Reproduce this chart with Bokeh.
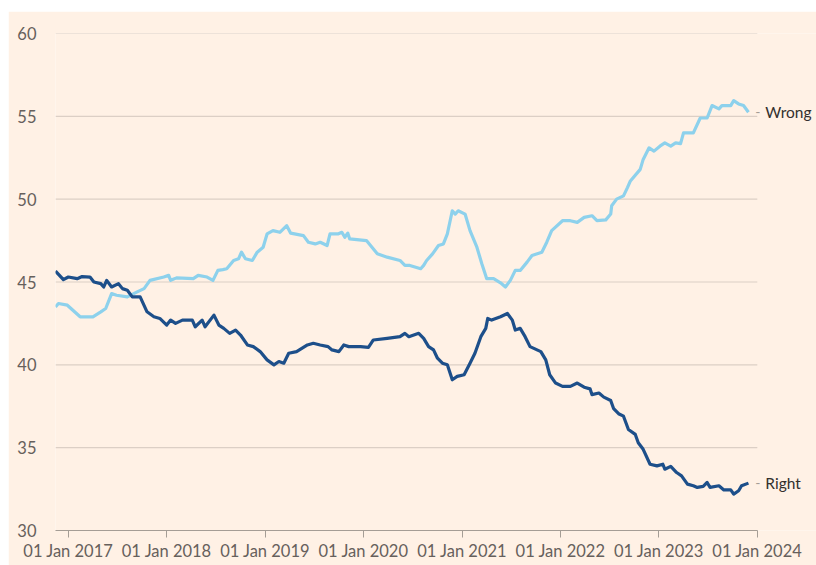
import pandas as pd
from bokeh.plotting import figure
from bokeh.models import (ColumnDataSource, Range1d, FixedTicker, DatetimeTickFormatter)
from bokeh.core.properties import value
from bokeh.embed import file_html
from bokeh.resources import INLINE

# ---- data (decimal year, share %) ----
wrong_t = [2016.87, 2016.90, 2016.99, 2017.12, 2017.25, 2017.33, 2017.38, 2017.44, 2017.49,
           2017.60, 2017.70, 2017.77, 2017.83, 2017.97, 2018.02, 2018.04, 2018.10, 2018.27,
           2018.32, 2018.41, 2018.47, 2018.52, 2018.57, 2018.61, 2018.68, 2018.73, 2018.76,
           2018.80, 2018.87, 2018.92, 2018.98, 2019.02, 2019.08, 2019.15, 2019.22, 2019.26,
           2019.39, 2019.44, 2019.51, 2019.56, 2019.63, 2019.66, 2019.74, 2019.78, 2019.81,
           2019.84, 2019.86, 2020.03, 2020.14, 2020.24, 2020.37, 2020.42, 2020.47, 2020.58,
           2020.61, 2020.64, 2020.70, 2020.76, 2020.81, 2020.85, 2020.90, 2020.93, 2020.96,
           2021.03, 2021.08, 2021.15, 2021.20, 2021.25, 2021.32, 2021.39, 2021.44, 2021.49,
           2021.54, 2021.59, 2021.66, 2021.71, 2021.81, 2021.86, 2021.91, 2022.02, 2022.10,
           2022.17, 2022.24, 2022.32, 2022.37, 2022.46, 2022.51, 2022.52, 2022.57, 2022.64,
           2022.68, 2022.71, 2022.81, 2022.84, 2022.90, 2022.95, 2023.01, 2023.06, 2023.12,
           2023.17, 2023.22, 2023.25, 2023.35, 2023.42, 2023.49, 2023.54, 2023.61, 2023.64,
           2023.73, 2023.76, 2023.81, 2023.86, 2023.91]
wrong_v = [43.5, 43.7, 43.6, 42.9, 42.9, 43.2, 43.4, 44.3, 44.2,
           44.1, 44.4, 44.6, 45.1, 45.3, 45.4, 45.1, 45.25, 45.2,
           45.4, 45.3, 45.1, 45.7, 45.75, 45.8, 46.3, 46.4, 46.8,
           46.4, 46.3, 46.8, 47.1, 47.9, 48.1, 48.0, 48.4, 47.95,
           47.8, 47.4, 47.3, 47.4, 47.2, 47.9, 47.9, 48.0, 47.7,
           47.95, 47.6, 47.5, 46.7, 46.5, 46.3, 46.0, 46.0, 45.8,
           46.0, 46.3, 46.7, 47.2, 47.3, 47.9, 49.3, 49.1, 49.3,
           49.1, 48.1, 47.1, 46.1, 45.2, 45.2, 44.95, 44.7, 45.1,
           45.7, 45.7, 46.2, 46.6, 46.8, 47.4, 48.1, 48.7, 48.7,
           48.6, 48.9, 49.0, 48.7, 48.75, 49.1, 49.6, 50.0, 50.2,
           50.7, 51.1, 51.8, 52.4, 53.1, 52.9, 53.2, 53.4, 53.2,
           53.4, 53.35, 54.0, 54.0, 54.9, 54.9, 55.65, 55.45, 55.65,
           55.65, 55.95, 55.75, 55.65, 55.25]

right_t = [2016.87, 2016.95, 2017.00, 2017.09, 2017.14, 2017.22, 2017.26, 2017.33, 2017.36,
           2017.39, 2017.44, 2017.51, 2017.55, 2017.60, 2017.65, 2017.73, 2017.80, 2017.87,
           2017.93, 2018.00, 2018.04, 2018.09, 2018.16, 2018.26, 2018.29, 2018.36, 2018.39,
           2018.48, 2018.53, 2018.58, 2018.64, 2018.70, 2018.75, 2018.82, 2018.88, 2018.95,
           2019.02, 2019.09, 2019.14, 2019.19, 2019.24, 2019.32, 2019.43, 2019.49, 2019.56,
           2019.64, 2019.68, 2019.75, 2019.80, 2019.85, 2019.97, 2020.05, 2020.10, 2020.24,
           2020.37, 2020.42, 2020.46, 2020.56, 2020.61, 2020.66, 2020.71, 2020.75, 2020.80,
           2020.85, 2020.90, 2020.95, 2021.02, 2021.08, 2021.13, 2021.19, 2021.24, 2021.26,
           2021.30, 2021.39, 2021.46, 2021.51, 2021.54, 2021.59, 2021.64, 2021.69, 2021.80,
           2021.85, 2021.89, 2021.95, 2022.02, 2022.10, 2022.17, 2022.24, 2022.30, 2022.32,
           2022.39, 2022.44, 2022.51, 2022.54, 2022.59, 2022.64, 2022.69, 2022.76, 2022.79,
           2022.84, 2022.91, 2022.98, 2023.04, 2023.06, 2023.12, 2023.18, 2023.23, 2023.29,
           2023.35, 2023.39, 2023.45, 2023.49, 2023.52, 2023.61, 2023.66, 2023.73, 2023.76,
           2023.81, 2023.84, 2023.91]
right_v = [45.66, 45.14, 45.3, 45.2, 45.33, 45.3, 45.0, 44.9, 44.7,
           45.1, 44.7, 44.9, 44.6, 44.5, 44.1, 44.1, 43.2, 42.9,
           42.8, 42.4, 42.7, 42.5, 42.7, 42.7, 42.3, 42.7, 42.3,
           43.0, 42.4, 42.2, 41.9, 42.1, 41.8, 41.2, 41.1, 40.8,
           40.3, 40.0, 40.2, 40.1, 40.7, 40.8, 41.2, 41.3, 41.2,
           41.1, 40.9, 40.8, 41.2, 41.1, 41.1, 41.05, 41.5, 41.6,
           41.7, 41.9, 41.7, 41.9, 41.6, 41.1, 40.9, 40.4, 40.1,
           40.0, 39.1, 39.3, 39.4, 40.1, 40.7, 41.7, 42.2, 42.8,
           42.7, 42.9, 43.1, 42.7, 42.1, 42.2, 41.7, 41.1, 40.8,
           40.3, 39.4, 38.9, 38.7, 38.7, 38.9, 38.65, 38.55, 38.2,
           38.3, 38.05, 37.85, 37.35, 37.05, 36.9, 36.1, 35.8, 35.3,
           34.9, 34.0, 33.9, 34.0, 33.7, 33.87, 33.5, 33.3, 32.8,
           32.7, 32.6, 32.66, 32.9, 32.6, 32.7, 32.45, 32.45, 32.2,
           32.4, 32.7, 32.86]

tick_years = [2017, 2018, 2019, 2020, 2021, 2022, 2023, 2024]
y_ticks = [30, 35, 40, 45, 50, 55, 60]
series_names = ["Wrong", "Right"]


def to_dt(yrs):
    out = []
    for y in yrs:
        yi = int(y)
        start = pd.Timestamp(year=yi, month=1, day=1)
        end = pd.Timestamp(year=yi + 1, month=1, day=1)
        out.append(start + (end - start) * (y - yi))
    return out


def ms(ts):
    return ts.value / 1e6


BG = "#FFF1E5"
LIGHT = "#8DD1EC"
DARK = "#1D4F8A"
GRID = "#DCCFC5"
AXIS = "#A59D95"
FONT = "Lato"

x_start = to_dt([2016.87])[0]
x_end = pd.Timestamp(year=2024, month=1, day=1)
# extra room on the right (inside the frame) for the end labels
x_room = to_dt([2024.60])[0]

p = figure(frame_width=761, frame_height=497, x_axis_type="datetime",
           x_range=Range1d(x_start, x_room), y_range=Range1d(30, 60),
           output_backend="svg", toolbar_location=None,
           background_fill_color=BG, border_fill_color=BG,
           min_border_left=47, min_border_right=0, min_border_top=22,
           min_border_bottom=35)
p.margin = (11, 0, 0, 8)
p.outline_line_color = None

# horizontal gridlines limited to the data span
n = len(y_ticks)
p.segment(x0=[x_start] * n, y0=y_ticks, x1=[x_end] * n, y1=y_ticks,
          line_color=GRID, line_width=1.2)

src_w = ColumnDataSource(dict(x=to_dt(wrong_t), y=wrong_v))
src_r = ColumnDataSource(dict(x=to_dt(right_t), y=right_v))
p.line("x", "y", source=src_w, line_color=LIGHT, line_width=3.2, line_join="round")
p.line("x", "y", source=src_r, line_color=DARK, line_width=3.2, line_join="round")

# axes
p.xaxis.ticker = FixedTicker(ticks=[ms(pd.Timestamp(year=y, month=1, day=1)) for y in tick_years])
p.xaxis.bounds = (ms(x_start), ms(x_end))
fmt = "%d %b %Y"
p.xaxis.formatter = DatetimeTickFormatter(years=fmt, months=fmt, days=fmt, hours=fmt,
                                          minutes=fmt, seconds=fmt, milliseconds=fmt)
p.xaxis.axis_line_color = AXIS
p.xaxis.axis_line_width = 1.2
p.xaxis.major_tick_line_color = AXIS
p.xaxis.major_tick_in = 0
p.xaxis.major_tick_out = 7
p.xaxis.minor_tick_line_color = None
p.xaxis.major_label_text_font = FONT
p.xaxis.major_label_text_font_size = "16.5px"
p.xaxis.major_label_text_color = "#66605C"
p.xaxis.major_label_standoff = 3

p.yaxis.ticker = FixedTicker(ticks=y_ticks)
p.yaxis.axis_line_color = None
p.yaxis.major_tick_line_color = None
p.yaxis.minor_tick_line_color = None
p.yaxis.major_label_text_font = FONT
p.yaxis.major_label_text_font_size = "16.5px"
p.yaxis.major_label_text_color = "#66605C"
p.yaxis.major_label_standoff = 13

p.xgrid.grid_line_color = None
p.ygrid.grid_line_color = None

# end labels
last_vals = [wrong_v[-1], right_v[-1]]
lab = ColumnDataSource(dict(x=[x_end] * 2, y=last_vals, name=series_names, dash=["-"] * 2))
p.text(x="x", y="y", text="dash", source=lab, x_offset=-2,
       text_color=AXIS, text_font=value(FONT), text_font_size="14px",
       text_baseline="middle", text_align="left")
p.text(x="x", y="y", text="name", source=lab, x_offset=8,
       text_color="#33302E", text_font=value(FONT), text_font_size="15.5px",
       text_baseline="middle", text_align="left")

open("out.html", "w").write(file_html(p, INLINE))
